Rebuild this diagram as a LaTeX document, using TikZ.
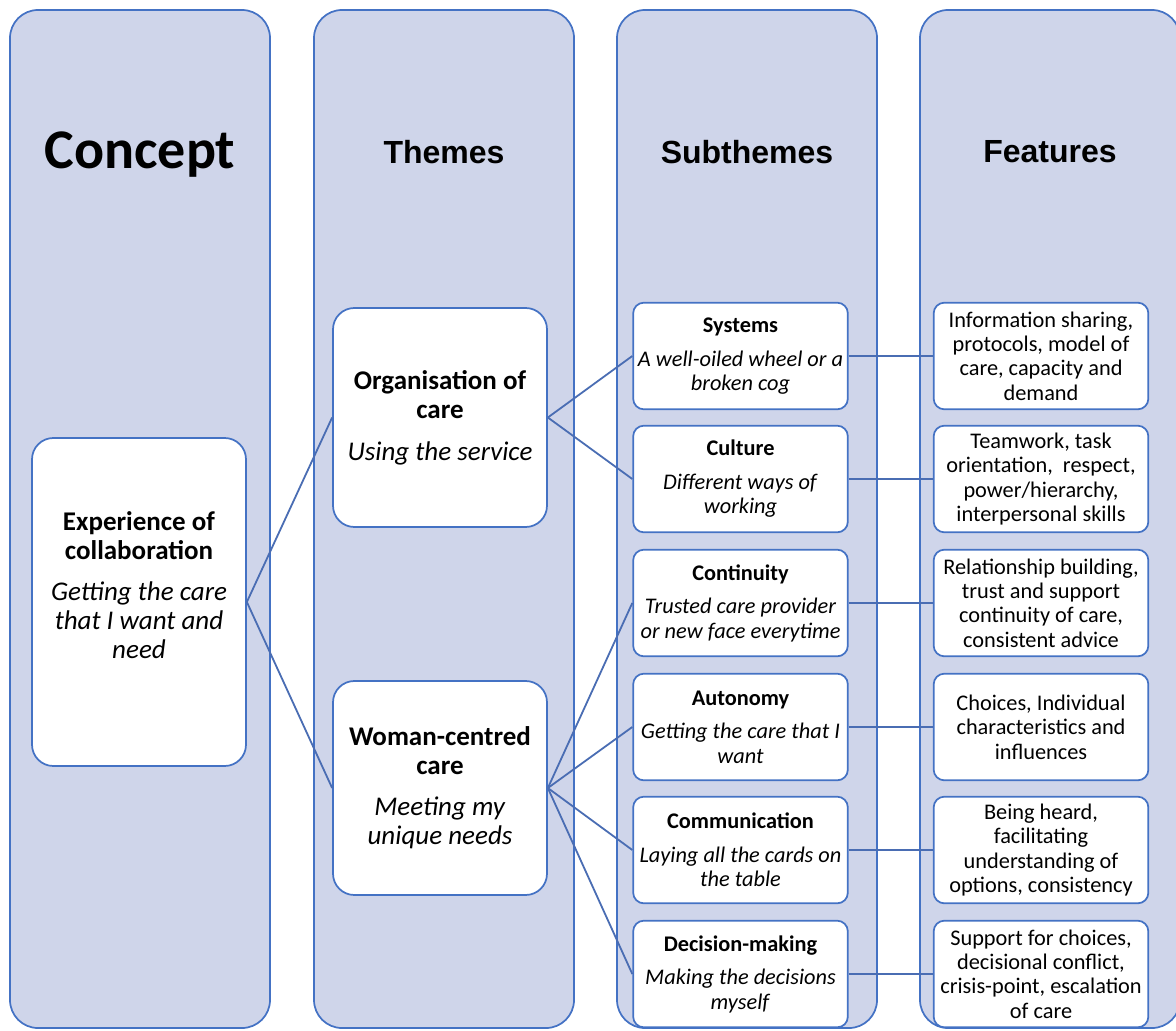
\documentclass[tikz,border=0pt]{standalone}
\usepackage{fontspec}
\setmainfont{Carlito}
\newfontfamily\headfont{Liberation Sans}
\definecolor{bordblue}{HTML}{4472C4}
\definecolor{colfill}{HTML}{CFD5EA}
\definecolor{linkblue}{HTML}{4A6DB3}
\tikzset{
  column/.style={draw=bordblue, fill=colfill, line width=1.3pt, rounded corners=21pt,
    minimum width=195pt, minimum height=763.5pt},
  header/.style={font=\headfont\bfseries\fontsize{24}{28}\selectfont},
  themebox/.style={draw=bordblue, fill=white, line width=1.3pt, rounded corners=16pt,
    minimum width=160.5pt, align=center, inner sep=2pt, font=\fontsize{20.25}{21.75}\selectfont},
  subbox/.style={draw=bordblue, fill=white, line width=1.3pt, rounded corners=8pt,
    minimum width=161pt, minimum height=80pt, align=center, inner sep=1pt,
    font=\fontsize{16.75}{18.25}\selectfont},
  link/.style={draw=linkblue, line width=1.35pt}
}
\begin{document}
\begin{tikzpicture}[x=0.75pt,y=-0.75pt]
    \useasboundingbox (0,0) rectangle (1176,1030);
    \node[column] (concept col) at (140,519) {};
    \node[column] (theme col) at (444,519) {};
    \node[column] (sub col) at (747,519) {};
    \node[column] (feat col) at (1050,519) {};
    \node[font=\bfseries\fontsize{42}{48}\selectfont] (concept head) at (140,155) {Concept};
    \node[header] (theme head) at (444,152) {Themes};
    \node[header] (sub head) at (747,152) {Subthemes};
    \node[header] (feat head) at (1050,152) {Features};
    % concept and themes
    \node[themebox, minimum height=246pt] (exp) at (139,602)
      {\textbf{Experience of}\\\textbf{collaboration}\\[9pt]\textit{Getting the care}\\\textit{that I want and}\\\textit{need}\\[4pt]\mbox{}};
    \node[themebox, minimum height=164.25pt] (org) at (440,417.5)
      {\textbf{Organisation of}\\\textbf{care}\\[10pt]\textit{Using the service}};
    \node[themebox, minimum height=160.5pt] (woman) at (440,788)
      {\textbf{Woman-centred}\\\textbf{care}\\[9pt]\textit{Meeting my}\\\textit{unique needs}};
    % subthemes
    \node[subbox] (sys) at (740.5,356) {\textbf{Systems}\\[7pt]\textit{A well-oiled wheel or a}\\\textit{broken cog}};
    \node[subbox] (cult) at (740.5,479) {\textbf{Culture}\\[7pt]\textit{Different ways of}\\\textit{working}};
    \node[subbox] (cont) at (740.5,603) {\textbf{Continuity}\\[7pt]\textit{Trusted care provider}\\\textit{or new face everytime}};
    \node[subbox] (auto) at (740.5,727) {\textbf{Autonomy}\\[7pt]\textit{Getting the care that I}\\\textit{want}};
    \node[subbox] (comm) at (740.5,850) {\textbf{Communication}\\[7pt]\textit{Laying all the cards on}\\\textit{the table}};
    \node[subbox] (dec) at (740.5,974) {\textbf{Decision-making}\\[7pt]\textit{Making the decisions}\\\textit{myself}};
    % features
    \node[subbox] (f sys) at (1041,356) {Information sharing,\\protocols, model of\\care, capacity and\\demand};
    \node[subbox] (f cult) at (1041,479) {Teamwork, task\\orientation,\ \ respect,\\power/hierarchy,\\interpersonal skills};
    \node[subbox] (f cont) at (1041,603) {Relationship building,\\trust and support\\continuity of care,\\consistent advice};
    \node[subbox] (f auto) at (1041,727) {Choices, Individual\\characteristics and\\influences};
    \node[subbox] (f comm) at (1041,850) {Being heard,\\facilitating\\understanding of\\options, consistency};
    \node[subbox] (f dec) at (1041,974) {Support for choices,\\decisional conflict,\\crisis-point, escalation\\of care};
    \draw[link] (exp.east) -- (org.west);
    \draw[link] (exp.east) -- (woman.west);
    \foreach \s in {sys,cult}
      \draw[link] (org.east) -- (\s.west);
    \foreach \s in {cont,auto,comm,dec}
      \draw[link] (woman.east) -- (\s.west);
    \foreach \s in {sys,cult,cont,auto,comm,dec}
      \draw[link] (\s.east) -- (f \s.west);
  \end{tikzpicture}
\end{document}
